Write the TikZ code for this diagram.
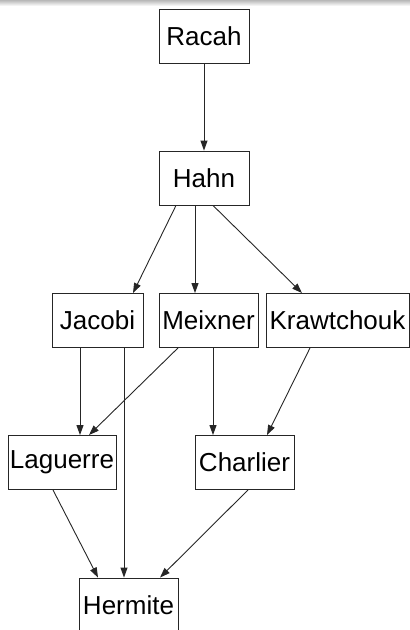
\documentclass[tikz,border=0pt]{standalone}
\usepackage{fontspec}
\setmainfont{Liberation Sans}
\usetikzlibrary{arrows.meta}
\begin{document}
\begin{tikzpicture}[x=1pt,y=-1pt,
  box/.style={draw=black!85, line width=0.9pt, rectangle, inner sep=0pt,
    minimum height=54pt, font=\fontsize{26}{28}\selectfont},
  arr/.style={draw=black!85, line width=0.9pt, -{Triangle[length=10pt,width=7pt]}}]
\useasboundingbox (0,0) rectangle (410,630);
\shade[top color=black!28, bottom color=white] (0,0) rectangle (410,6);
\node[box, minimum width=90pt] (racah) at (204,36) {Racah};
\node[box, minimum width=90pt] (hahn) at (204,178) {Hahn};
\node[box, minimum width=91pt] (jacobi) at (97.5,320.5) {Jacobi};
\node[box, minimum width=99pt] (meixner) at (208.5,320.5) {Meixner};
\node[box, minimum width=143pt] (kraw) at (337.5,320.5) {Krawtchouk};
\node[box, minimum width=108pt] (laguerre) at (62,462.5) {Laguerre};
\node[box, minimum width=99pt] (charlier) at (244.5,462.5) {Charlier};
\node[box, minimum width=99pt] (hermite) at (128.5,605) {Hermite};
\draw[arr] (racah.south) -- (hahn.north);
\draw[arr] ([xshift=-28pt]hahn.south) -- ([xshift=35.5pt]jacobi.north);
\draw[arr] ([xshift=-9pt]hahn.south) -- ([xshift=-13.5pt]meixner.north);
\draw[arr] ([xshift=9pt]hahn.south) -- ([xshift=-35.5pt]kraw.north);
\draw[arr] ([xshift=-17.5pt]jacobi.south) -- ([xshift=18pt]laguerre.north);
\draw[arr] ([xshift=26.5pt]jacobi.south) -- ([xshift=-4.5pt]hermite.north);
\draw[arr] ([xshift=-30.5pt]meixner.south) -- ([xshift=27pt]laguerre.north);
\draw[arr] ([xshift=4.5pt]meixner.south) -- ([xshift=-31.5pt]charlier.north);
\draw[arr] ([xshift=-27.5pt]kraw.south) -- ([xshift=22.5pt]charlier.north);
\draw[arr] ([xshift=-9pt]laguerre.south) -- ([xshift=-30.5pt]hermite.north);
\draw[arr] ([xshift=3.5pt]charlier.south) -- ([xshift=31.5pt]hermite.north);
\end{tikzpicture}
\end{document}
